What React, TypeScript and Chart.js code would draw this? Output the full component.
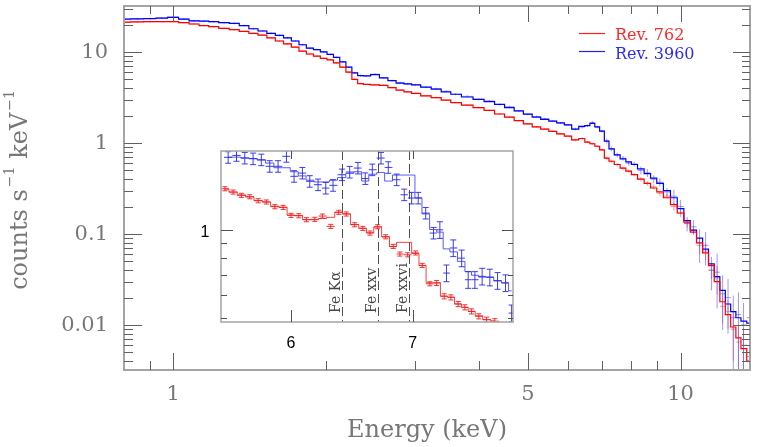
import React, { useEffect, useRef } from "react";
import { Chart, registerables } from "chart.js";

Chart.register(...registerables);

// ---------------- main spectrum data ----------------
const energyKeV = [
  0.8, 0.85, 0.9, 0.95, 1.0,
  1.05, 1.1, 1.15, 1.2, 1.26,
  1.32, 1.38, 1.44, 1.5, 1.56,
  1.62, 1.68, 1.74, 1.8, 1.86,
  1.92, 1.98, 2.04, 2.1, 2.16,
  2.22, 2.28, 2.34, 2.4, 2.5,
  2.6, 2.7, 2.8, 2.9, 3.0,
  3.15, 3.3, 3.45, 3.6, 3.8,
  4.0, 4.2, 4.4, 4.6, 4.8,
  5.0, 5.2, 5.4, 5.6, 5.8,
  6.0, 6.2, 6.4, 6.55, 6.7,
  6.85, 7.0, 7.15, 7.3, 7.5,
  7.7, 7.9, 8.1, 8.35, 8.6,
  8.85, 9.1, 9.4, 9.7, 10.0,
  10.3, 10.6, 10.9, 11.2, 11.5,
  11.8, 12.1, 12.4, 12.7, 13.0,
  13.3, 13.7,
];

const rev762Model = [
  21.3, 21.4, 21.5, 21.5, 21.5,
  21.0, 20.3, 19.5, 19.0, 18.2,
  17.6, 16.8, 16.0, 15.3, 14.3,
  13.2, 12.3, 11.3, 10.2, 9.5,
  9.0, 8.5, 8.2, 7.6, 6.8,
  6.0, 5.0, 4.5, 4.4, 4.35,
  4.3, 4.05, 3.8, 3.65, 3.5,
  3.3, 3.15, 2.95, 2.78, 2.6,
  2.44, 2.28, 2.08, 1.92, 1.76,
  1.62, 1.5, 1.42, 1.34, 1.26,
  1.19, 1.08, 1.12, 1.02, 0.98,
  0.92, 0.84, 0.68, 0.63, 0.58,
  0.53, 0.49, 0.45, 0.4, 0.36,
  0.32, 0.29, 0.25, 0.21, 0.17,
  0.135, 0.105, 0.08, 0.062, 0.045,
  0.03, 0.018, 0.013, 0.0095, 0.0072,
  0.0055, 0.004,
];

const rev762Counts = [
  21.3, 21.4, 21.5, 21.5, 21.5,
  21.0, 20.3, 19.5, 19.0, 18.2,
  17.6, 16.8, 16.0, 15.3, 14.3,
  13.2, 12.3, 11.3, 10.2, 9.5,
  9.0, 8.5, 8.2, 7.6, 6.8,
  6.0, 5.0, 4.5, 4.4, 4.35,
  4.3, 4.05, 3.8, 3.65, 3.5,
  3.3, 3.15, 2.95, 2.78, 2.6,
  2.44, 2.28, 2.08, 1.92, 1.76,
  1.62, 1.5, 1.42, 1.34, 1.26,
  1.19, 1.08, 1.12, 1.02, 0.98,
  0.92, 0.84, 0.68, 0.63, 0.58,
  0.53, 0.49, 0.45, 0.4, 0.36,
  0.33, 0.28, 0.26, 0.2, 0.17,
  0.13, 0.11, 0.075, 0.065, 0.04,
  0.033, 0.016, 0.014, 0.009, 0.0065,
  0.006, 0.0045,
];

const rev3960Model = [
  23.0, 23.1, 23.3, 23.6, 24.0,
  23.0, 22.0, 21.8, 21.5, 21.0,
  20.6, 19.5, 18.0, 17.0, 16.0,
  15.2, 14.3, 13.2, 12.0, 11.0,
  10.6, 10.0, 9.4, 8.7, 7.8,
  6.8, 5.9, 5.5, 5.45, 5.65,
  5.2, 4.85, 4.55, 4.45, 4.35,
  4.1, 3.9, 3.65, 3.43, 3.2,
  3.02, 2.85, 2.65, 2.45, 2.25,
  2.07, 1.92, 1.82, 1.74, 1.66,
  1.58, 1.42, 1.52, 1.55, 1.64,
  1.5, 1.35, 1.05, 0.86, 0.74,
  0.67, 0.62, 0.58, 0.52, 0.46,
  0.41, 0.36, 0.3, 0.25, 0.19,
  0.14, 0.11, 0.09, 0.068, 0.047,
  0.034, 0.024, 0.017, 0.014, 0.012,
  0.011, 0.0105,
];

const rev3960Counts = [
  23.0, 23.1, 23.3, 23.6, 24.2,
  23.0, 22.0, 21.8, 21.5, 21.0,
  20.6, 19.5, 18.0, 17.0, 16.0,
  15.2, 14.3, 13.2, 12.0, 11.0,
  10.6, 10.0, 9.4, 8.7, 7.8,
  6.8, 5.9, 5.5, 5.45, 5.7,
  5.2, 4.85, 4.6, 4.45, 4.35,
  4.1, 3.95, 3.7, 3.43, 3.25,
  3.02, 2.9, 2.65, 2.5, 2.25,
  2.07, 1.95, 1.85, 1.74, 1.66,
  1.58, 1.42, 1.5, 1.55, 1.68,
  1.5, 1.35, 1.05, 0.86, 0.74,
  0.68, 0.6, 0.59, 0.5, 0.47,
  0.4, 0.37, 0.29, 0.26, 0.2,
  0.13, 0.12, 0.08, 0.075, 0.04,
  0.038, 0.022, 0.02, 0.012, 0.013,
  0.01, 0.012,
];

// relative 1-sigma errors by energy band (upper band edges in keV)
const errBandUpperKeV = [6.1, 7.1, 8.2, 9.5, 10.7, 11.6, 12.5, 14];
const rev762RelErr = [0.02, 0.03, 0.04, 0.06, 0.1, 0.2, 0.35, 0.55];
const rev3960RelErr = [0.025, 0.035, 0.06, 0.1, 0.18, 0.4, 0.6, 0.75];

const seriesNames = ["Rev. 762", "Rev. 3960"];

// axis ticks
const xMajorTicks = [1, 5, 10];
const xMajorLabels = ["1", "5", "10"];
const xMinorTicks = [0.9, 2, 3, 4, 6, 7, 8, 9];
const yMajorTicks = [0.01, 0.1, 1, 10];
const yMajorLabels = ["0.01", "0.1", "1", "10"];
const yMinorTicks = [
  0.004, 0.005, 0.006, 0.007, 0.008, 0.009,
  0.02, 0.03, 0.04, 0.05, 0.06, 0.07, 0.08, 0.09,
  0.2, 0.3, 0.4, 0.5, 0.6, 0.7, 0.8, 0.9,
  2, 3, 4, 5, 6, 7, 8, 9,
  20, 30,
];

// ---------------- inset (Fe K region) data ----------------
const insetRedEnergy = [
  5.517, 5.575, 5.634, 5.694, 5.755, 5.815, 5.878, 5.94, 6.0, 6.059,
  6.118, 6.183, 6.243, 6.31, 6.374, 6.435, 6.504, 6.572, 6.631, 6.696,
  6.765, 6.83, 6.888, 6.956, 7.027, 7.086, 7.155, 7.216, 7.286, 7.348,
  7.416, 7.479, 7.543, 7.613, 7.688, 7.769,
];
const insetRedCounts = [
  1.375, 1.34, 1.306, 1.292, 1.252, 1.24, 1.195, 1.189, 1.117, 1.114,
  1.08, 1.083, 1.111, 1.025, 1.144, 1.129, 1.038, 1.009, 0.973, 1.022,
  0.945, 0.877, 0.826, 0.821, 0.833, 0.756, 0.655, 0.659, 0.594, 0.589,
  0.559, 0.545, 0.528, 0.508, 0.495, 0.489,
];
const insetRedModel = [
  1.37, 1.34, 1.31, 1.29, 1.255, 1.24, 1.2, 1.19, 1.12, 1.115,
  1.08, 1.08, 1.09, 1.1, 1.145, 1.13, 1.04, 1.01, 0.975, 1.02,
  0.945, 0.875, 0.905, 0.905, 0.83, 0.755, 0.66, 0.66, 0.595, 0.59,
  0.56, 0.545, 0.528, 0.51, 0.495, 0.49,
];
const insetBlueEnergy = [
  5.54, 5.599, 5.658, 5.718, 5.778, 5.84, 5.902, 5.965, 6.023, 6.087,
  6.144, 6.209, 6.27, 6.328, 6.4, 6.463, 6.531, 6.592, 6.651, 6.725,
  6.787, 6.86, 6.926, 6.991, 7.05, 7.117, 7.188, 7.246, 7.307, 7.37,
  7.449, 7.511, 7.575, 7.645, 7.72, 7.796, 7.875, 7.936,
];
const insetBlueCounts = [
  1.757, 1.784, 1.747, 1.738, 1.724, 1.638, 1.638, 1.771, 1.515, 1.554,
  1.457, 1.419, 1.382, 1.412, 1.534, 1.566, 1.616, 1.489, 1.595, 1.747,
  1.624, 1.475, 1.312, 1.279, 1.279, 1.137, 0.973, 0.998, 0.712, 0.866,
  0.8, 0.676, 0.676, 0.694, 0.689, 0.671, 0.659, 0.521,
];
const insetBlueModel = [
  1.76, 1.76, 1.75, 1.74, 1.72, 1.68, 1.62, 1.62, 1.57, 1.52,
  1.47, 1.45, 1.45, 1.47, 1.5, 1.55, 1.57, 1.46, 1.54, 1.56,
  1.46, 1.53, 1.53, 1.53, 1.28, 1.13, 1.0, 0.98, 0.86, 0.84,
  0.78, 0.72, 0.7, 0.69, 0.69, 0.67, 0.66, 0.62,
];
const insetErrBandUpperKeV = [7.2, 8.1];
const insetRedRelErr = [0.016, 0.02];
const insetBlueRelErr = [0.045, 0.065];

const feLineEnergy = [6.4, 6.7, 6.97];
const feLineLabels = ["Fe K\u03b1", "Fe xxv", "Fe xxvi"];
const insetXTicks = [6, 7];
const insetXLabels = ["6", "7"];
const insetYMajor = [1];
const insetYLabels = ["1"];
const insetYMinor = [0.5, 0.6, 0.7, 0.8, 0.9];

// ---------------- helpers ----------------
const SERIF = '"DejaVu Serif", "Liberation Serif", serif';
const LABEL_GREY = "#777777";

function bandValue(e: number, edges: number[], vals: number[]) {
  for (let i = 0; i < edges.length; i++) if (e <= edges[i]) return vals[i];
  return vals[vals.length - 1];
}

function drawCrosses(
  chart: any,
  E: number[],
  V: number[],
  edges: number[],
  rel: number[],
  color: string,
  cap: number,
  lw: number
) {
  const { ctx, chartArea: a, scales } = chart;
  const x = scales.x;
  const y = scales.y;
  ctx.save();
  ctx.beginPath();
  ctx.rect(a.left, a.top, a.right - a.left, a.bottom - a.top);
  ctx.clip();
  ctx.strokeStyle = color;
  ctx.lineWidth = lw;
  for (let i = 0; i < E.length; i++) {
    const lo = i > 0 ? Math.sqrt(E[i - 1] * E[i]) : (E[0] * E[0]) / Math.sqrt(E[0] * E[1]);
    const hi =
      i < E.length - 1 ? Math.sqrt(E[i] * E[i + 1]) : (E[i] * E[i]) / Math.sqrt(E[i - 1] * E[i]);
    const r = bandValue(E[i], edges, rel);
    const px = x.getPixelForValue(E[i]);
    const py = y.getPixelForValue(V[i]);
    const x0 = x.getPixelForValue(lo);
    const x1 = x.getPixelForValue(hi);
    const yt = y.getPixelForValue(V[i] * (1 + r));
    const yb = y.getPixelForValue(Math.max(V[i] * (1 - r), 1e-6));
    ctx.beginPath();
    ctx.moveTo(x0, py);
    ctx.lineTo(x1, py);
    ctx.moveTo(px, yt);
    ctx.lineTo(px, yb);
    if (cap > 0) {
      ctx.moveTo(px - cap, yt);
      ctx.lineTo(px + cap, yt);
      ctx.moveTo(px - cap, yb);
      ctx.lineTo(px + cap, yb);
    }
    ctx.stroke();
  }
  ctx.restore();
}

function line(ctx: CanvasRenderingContext2D, x1: number, y1: number, x2: number, y2: number) {
  ctx.beginPath();
  ctx.moveTo(x1, y1);
  ctx.lineTo(x2, y2);
  ctx.stroke();
}

const mainPlugin = {
  id: "mainDecor",
  beforeDatasetsDraw(chart: any) {
    drawCrosses(chart, energyKeV, rev762Counts, errBandUpperKeV, rev762RelErr, "rgba(255,70,70,0.55)", 0, 1);
    drawCrosses(chart, energyKeV, rev3960Counts, errBandUpperKeV, rev3960RelErr, "rgba(70,70,255,0.55)", 0, 1);
  },
  afterDraw(chart: any) {
    const { ctx, chartArea: a, scales } = chart;
    const x = scales.x;
    const y = scales.y;
    ctx.save();
    // frame
    ctx.strokeStyle = "#a4a4a4";
    ctx.lineWidth = 2;
    ctx.strokeRect(a.left, a.top, a.right - a.left, a.bottom - a.top);
    // ticks
    ctx.strokeStyle = "#606060";
    ctx.lineWidth = 1;
    xMajorTicks.forEach((v) => {
      const px = Math.round(x.getPixelForValue(v)) + 0.5;
      line(ctx, px, a.bottom, px, a.bottom - 17);
      line(ctx, px, a.top, px, a.top + 16);
    });
    xMinorTicks.forEach((v) => {
      const px = Math.round(x.getPixelForValue(v)) + 0.5;
      line(ctx, px, a.bottom, px, a.bottom - 9);
      line(ctx, px, a.top, px, a.top + 8);
    });
    yMajorTicks.forEach((v) => {
      const py = Math.round(y.getPixelForValue(v)) + 0.5;
      line(ctx, a.left, py, a.left + 18, py);
      line(ctx, a.right, py, a.right - 17, py);
    });
    yMinorTicks.forEach((v) => {
      const py = Math.round(y.getPixelForValue(v)) + 0.5;
      line(ctx, a.left, py, a.left + 9, py);
      line(ctx, a.right, py, a.right - 8, py);
    });
    // tick labels
    ctx.fillStyle = LABEL_GREY;
    ctx.font = `21px ${SERIF}`;
    ctx.textAlign = "right";
    ctx.textBaseline = "middle";
    yMajorTicks.forEach((v, i) => {
      ctx.fillText(yMajorLabels[i], a.left - 16, y.getPixelForValue(v) + 1);
    });
    ctx.textAlign = "center";
    xMajorTicks.forEach((v, i) => {
      ctx.fillText(xMajorLabels[i], x.getPixelForValue(v), a.bottom + 25);
    });
    // x title
    ctx.font = `24px ${SERIF}`;
    ctx.fillText("Energy (keV)", a.left + 303, a.bottom + 61);
    // y title (rotated, with superscripts)
    const pieces: [string, boolean][] = [
      ["counts s", false],
      ["\u22121", true],
      [" keV", false],
      ["\u22121", true],
    ];
    const mainFont = `24px ${SERIF}`;
    const supFont = `14px ${SERIF}`;
    let total = 0;
    pieces.forEach(([t, sup]) => {
      ctx.font = sup ? supFont : mainFont;
      total += ctx.measureText(t).width + (sup ? 2 : 0);
    });
    ctx.save();
    ctx.translate(27, (a.top + a.bottom) / 2 + 2);
    ctx.rotate(-Math.PI / 2);
    ctx.textAlign = "left";
    ctx.textBaseline = "alphabetic";
    let cx = -total / 2;
    pieces.forEach(([t, sup]) => {
      ctx.font = sup ? supFont : mainFont;
      if (sup) cx += 2;
      ctx.fillText(t, cx, sup ? -13 : 0);
      cx += ctx.measureText(t).width;
    });
    ctx.restore();
    // legend
    ctx.font = `16px ${SERIF}`;
    ctx.textAlign = "left";
    ctx.textBaseline = "alphabetic";
    ctx.lineWidth = 1.2;
    ctx.strokeStyle = "#ff2020";
    line(ctx, 579, 33.5, 605, 33.5);
    ctx.fillStyle = "#ff2a2a";
    ctx.fillText(seriesNames[0], 615, 40);
    ctx.strokeStyle = "#2020ff";
    line(ctx, 579, 51.5, 605, 51.5);
    ctx.fillStyle = "#2a2aff";
    ctx.fillText(seriesNames[1], 615, 58.5);
    ctx.restore();
  },
};

const insetPlugin = {
  id: "insetDecor",
  beforeDraw(chart: any) {
    const { ctx, chartArea: a } = chart;
    ctx.save();
    ctx.fillStyle = "#ffffff";
    ctx.fillRect(a.left, a.top, a.right - a.left, a.bottom - a.top);
    ctx.restore();
  },
  beforeDatasetsDraw(chart: any) {
    const { ctx, chartArea: a, scales } = chart;
    const x = scales.x;
    ctx.save();
    ctx.strokeStyle = "#505050";
    ctx.lineWidth = 1;
    ctx.setLineDash([9, 4]);
    feLineEnergy.forEach((e) => {
      const px = Math.round(x.getPixelForValue(e)) + 0.5;
      line(ctx, px, a.top, px, a.bottom);
    });
    ctx.setLineDash([]);
    ctx.fillStyle = "#454545";
    ctx.font = `14px ${SERIF}`;
    ctx.textAlign = "left";
    ctx.textBaseline = "alphabetic";
    feLineEnergy.forEach((e, i) => {
      const px = x.getPixelForValue(e);
      ctx.save();
      ctx.translate(px - 2, a.bottom - 9);
      ctx.rotate(-Math.PI / 2);
      ctx.fillText(feLineLabels[i], 0, 0);
      ctx.restore();
    });
    ctx.restore();
  },
  afterDatasetsDraw(chart: any) {
    drawCrosses(chart, insetRedEnergy, insetRedCounts, insetErrBandUpperKeV, insetRedRelErr, "rgba(240,30,30,0.9)", 2.5, 1);
    drawCrosses(chart, insetBlueEnergy, insetBlueCounts, insetErrBandUpperKeV, insetBlueRelErr, "rgba(40,40,240,0.9)", 3, 1);
  },
  afterDraw(chart: any) {
    const { ctx, chartArea: a, scales } = chart;
    const x = scales.x;
    const y = scales.y;
    ctx.save();
    ctx.strokeStyle = "#a4a4a4";
    ctx.lineWidth = 1.5;
    ctx.strokeRect(a.left, a.top, a.right - a.left, a.bottom - a.top);
    ctx.strokeStyle = "#505050";
    ctx.lineWidth = 1;
    insetXTicks.forEach((v) => {
      const px = Math.round(x.getPixelForValue(v)) + 0.5;
      line(ctx, px, a.bottom, px, a.bottom - 12);
      line(ctx, px, a.top, px, a.top + 8);
    });
    insetYMajor.forEach((v) => {
      const py = Math.round(y.getPixelForValue(v)) + 0.5;
      line(ctx, a.left, py, a.left + 12, py);
      line(ctx, a.right, py, a.right - 11, py);
    });
    insetYMinor.forEach((v) => {
      const py = Math.round(y.getPixelForValue(v)) + 0.5;
      line(ctx, a.left, py, a.left + 6, py);
      line(ctx, a.right, py, a.right - 5, py);
    });
    ctx.fillStyle = "#000000";
    ctx.font = '16px "Liberation Sans", Arial, sans-serif';
    ctx.textAlign = "center";
    ctx.textBaseline = "middle";
    insetXTicks.forEach((v, i) => {
      ctx.fillText(insetXLabels[i], x.getPixelForValue(v), a.bottom + 22);
    });
    insetYMajor.forEach((v, i) => {
      ctx.fillText(insetYLabels[i], a.left - 16, y.getPixelForValue(v) + 3);
    });
    ctx.restore();
  },
};

export default function App() {
  const mainRef = useRef<HTMLCanvasElement>(null);
  const insetRef = useRef<HTMLCanvasElement>(null);

  useEffect(() => {
    const main = new Chart(mainRef.current as HTMLCanvasElement, {
      type: "line",
      data: {
        datasets: [
          {
            label: seriesNames[0],
            data: energyKeV.map((e, i) => ({ x: e, y: rev762Model[i] })),
            borderColor: "#ff0000",
            borderWidth: 1.2,
            stepped: "middle",
            pointRadius: 0,
            fill: false,
          },
          {
            label: seriesNames[1],
            data: energyKeV.map((e, i) => ({ x: e, y: rev3960Model[i] })),
            borderColor: "#0000ff",
            borderWidth: 1.2,
            stepped: "middle",
            pointRadius: 0,
            fill: false,
          },
        ],
      },
      options: {
        responsive: false,
        animation: false,
        devicePixelRatio: 1,
        events: [],
        layout: { padding: { left: 124, right: 10, top: 6, bottom: 77 } },
        plugins: { legend: { display: false }, tooltip: { enabled: false } },
        scales: {
          x: { type: "logarithmic", min: 0.8, max: 13.7, display: false },
          y: { type: "logarithmic", min: 0.0032, max: 32, display: false },
        },
      },
      plugins: [mainPlugin],
    } as any);

    const inset = new Chart(insetRef.current as HTMLCanvasElement, {
      type: "line",
      data: {
        datasets: [
          {
            label: seriesNames[0],
            data: insetRedEnergy.map((e, i) => ({ x: e, y: insetRedModel[i] })),
            borderColor: "rgba(255,40,40,0.9)",
            borderWidth: 1,
            stepped: "middle",
            pointRadius: 0,
            fill: false,
          },
          {
            label: seriesNames[1],
            data: insetBlueEnergy.map((e, i) => ({ x: e, y: insetBlueModel[i] })),
            borderColor: "rgba(60,60,255,0.85)",
            borderWidth: 1,
            stepped: "middle",
            pointRadius: 0,
            fill: false,
          },
        ],
      },
      options: {
        responsive: false,
        animation: false,
        devicePixelRatio: 1,
        events: [],
        layout: { padding: { left: 51, right: 17, top: 11, bottom: 38 } },
        plugins: { legend: { display: false }, tooltip: { enabled: false } },
        scales: {
          x: { type: "logarithmic", min: 5.49, max: 7.95, display: false },
          y: { type: "logarithmic", min: 0.486, max: 1.846, display: false },
        },
      },
      plugins: [insetPlugin],
    } as any);

    return () => {
      main.destroy();
      inset.destroy();
    };
  }, []);

  return (
    <div
      style={{
        position: "fixed",
        left: 0,
        top: 0,
        width: 760,
        height: 447,
        background: "#ffffff",
        overflow: "hidden",
      }}
    >
      <canvas
        ref={mainRef}
        width={760}
        height={447}
        style={{ position: "absolute", left: 0, top: 0, width: 760, height: 447 }}
      />
      <canvas
        ref={insetRef}
        width={360}
        height={220}
        style={{ position: "absolute", left: 170, top: 140, width: 360, height: 220 }}
      />
    </div>
  );
}
